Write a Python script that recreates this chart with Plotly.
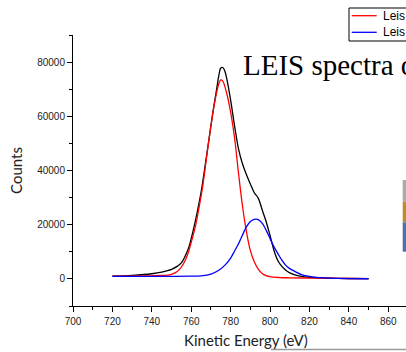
import plotly.graph_objects as go

# ---- data ----
sum_x = [720, 730, 740, 745, 750, 753, 755, 757, 759, 761, 763, 765, 767, 769, 771, 773, 774, 775, 776, 777, 778,
         780, 782, 784, 786, 788, 790, 792, 794, 796, 798, 800, 802, 804, 806, 808, 810, 813, 816, 820, 830, 840, 850]
sum_y = [1000, 1300, 1900, 2500, 3500, 4700, 5900, 8500, 12200, 17900, 24500, 32000, 41500, 51500, 61500, 70500,
         75000, 77800, 78000, 76800, 74000, 66000, 56500, 48000, 42500, 38500, 35000, 31800, 29800, 25500, 21200,
         16000, 10500, 6700, 4600, 3200, 2200, 1400, 900, 600, 300, 150, 100]

peak1_x = [720, 730, 740, 745, 748, 750, 752, 754, 756, 758, 760, 762, 764, 766, 768, 770, 772, 774, 775, 776, 778,
           780, 782, 784, 786, 788, 790, 792, 794, 796, 798, 800, 805, 810, 820, 830, 840, 850]
peak1_y = [1000, 1050, 1150, 1250, 1400, 1700, 2300, 3500, 5500, 8600, 13500, 19000, 26500, 35000, 46000, 56500,
           65500, 72000, 73450, 73000, 68500, 61500, 52000, 39000, 27000, 17500, 10500, 6300, 3600, 2000, 1200, 800,
           500, 400, 300, 250, 150, 100]

peak2_x = [720, 740, 760, 765, 770, 774, 777, 780, 782, 784, 786, 788, 790, 792, 793, 794, 796, 798, 800, 802, 804,
           806, 808, 810, 813, 816, 820, 825, 830, 840, 850]
peak2_y = [950, 950, 1000, 1150, 1800, 3200, 5000, 7700, 10300, 13000, 16200, 19200, 21200, 22000, 22050, 21900,
           20600, 18000, 14900, 11800, 9300, 6900, 5000, 3800, 2600, 1600, 900, 450, 250, 100, 50]

series_names = ["Leis Peak 1", "Leis Peak 2"]
series_colors = ["#ff0000", "#0000ff"]
x_label = "Kinetic Energy (eV)"
y_label = "Counts"
slide_title = "LEIS spectra of"

W, H = 406, 352
L, R, T, B = 73, 0, 35, 46
PW, PH = W - L - R, H - T - B


def px_x(p):
    return (p - L) / PW


def px_y(p):
    return (H - B - p) / PH


fig = go.Figure()
fig.add_trace(go.Scatter(x=sum_x, y=sum_y, mode="lines", line=dict(color="black", width=1.3, shape="spline"),
                         showlegend=False, name="Sum"))
fig.add_trace(go.Scatter(x=peak1_x, y=peak1_y, mode="lines",
                         line=dict(color=series_colors[0], width=1.3, shape="spline"),
                         name=series_names[0], showlegend=False))
fig.add_trace(go.Scatter(x=peak2_x, y=peak2_y, mode="lines",
                         line=dict(color=series_colors[1], width=1.3, shape="spline"),
                         name=series_names[1], showlegend=False))

tick_font = dict(family="Liberation Sans, Arial, sans-serif", size=10, color="#222222")
title_font = dict(family="Lato, Open Sans, sans-serif", size=15, color="#222222")

annotations = [
    dict(text=slide_title, x=px_x(241), y=px_y(65), xref="paper", yref="paper",
         xanchor="left", yanchor="middle", showarrow=False,
         font=dict(family="Liberation Serif, Times New Roman, serif", size=29, color="black")),
    dict(text=x_label, x=px_x(246), y=px_y(340), xref="paper", yref="paper",
         xanchor="center", yanchor="middle", showarrow=False, font=title_font),
]
shapes = [
    # legend box
    dict(type="rect", xref="paper", yref="paper", x0=px_x(349), x1=px_x(420), y0=px_y(41), y1=px_y(8),
         fillcolor="white", line=dict(color="black", width=1)),
    # slide artefacts at the right edge
    dict(type="rect", xref="paper", yref="paper", x0=px_x(402.7), x1=1.01, y0=px_y(201.7), y1=px_y(180),
         fillcolor="#a9a9a9", line=dict(width=0)),
    dict(type="rect", xref="paper", yref="paper", x0=px_x(402.7), x1=1.01, y0=px_y(222.3), y1=px_y(201.7),
         fillcolor="#bd8c32", line=dict(width=0)),
    dict(type="rect", xref="paper", yref="paper", x0=px_x(402.7), x1=1.01, y0=px_y(251.7), y1=px_y(222.3),
         fillcolor="#4575a8", line=dict(width=0)),
    dict(type="line", xref="paper", yref="paper", x0=px_x(271), x1=1.01, y0=px_y(349.5), y1=px_y(349.5),
         line=dict(color="#9a9a9a", width=1.5)),
]
legend_rows = [15.7, 32.3]
for name, color, row in zip(series_names, series_colors, legend_rows):
    shapes.append(dict(type="line", xref="paper", yref="paper", x0=px_x(351.7), x1=px_x(376.7),
                       y0=px_y(row), y1=px_y(row), line=dict(color=color, width=1.3)))
    annotations.append(dict(text=name, x=px_x(381), y=px_y(row), xref="paper", yref="paper",
                            xanchor="left", yanchor="middle", showarrow=False,
                            font=dict(family="Liberation Sans, Arial, sans-serif", size=12, color="black")))

fig.update_layout(
    width=W, height=H,
    margin=dict(l=L, r=R, t=T, b=B, autoexpand=False),
    paper_bgcolor="white", plot_bgcolor="white",
    showlegend=False,
    xaxis=dict(range=[700, 869], showgrid=False, zeroline=False, showline=True, linecolor="black", linewidth=1,
               ticks="outside", ticklen=5, tickwidth=1, tickcolor="black", dtick=20, tick0=700,
               minor=dict(ticks="outside", ticklen=3, tickwidth=1, tickcolor="black", dtick=10, showgrid=False),
               tickfont=tick_font, ticklabelstandoff=1, automargin=False),
    yaxis=dict(range=[-10000, 90000], showgrid=False, zeroline=False, showline=True, linecolor="black", linewidth=1,
               ticks="outside", ticklen=5, tickwidth=1, tickcolor="black", dtick=20000, tick0=0, tickformat="d",
               minor=dict(ticks="outside", ticklen=3, tickwidth=1, tickcolor="black", dtick=10000, showgrid=False),
               tickfont=tick_font, automargin=False,
               title=dict(text=y_label, font=title_font, standoff=10)),
    annotations=annotations,
    shapes=shapes,
)

fig.write_html("out.html", config={"displayModeBar": False},
               post_script="document.body.style.margin='0';document.body.style.overflow='hidden';")
